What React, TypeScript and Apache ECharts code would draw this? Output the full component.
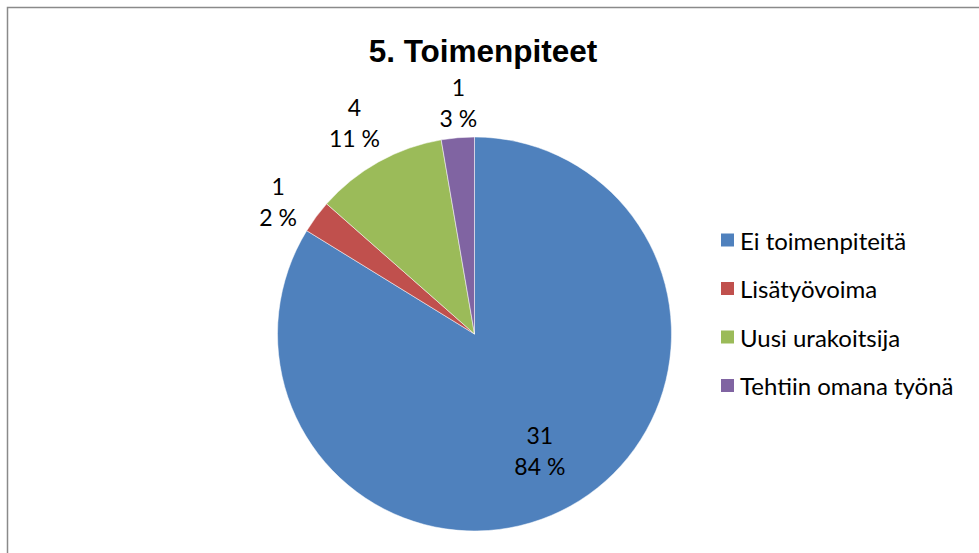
import React, { useEffect, useRef } from "react";
import * as echarts from "echarts";

const titleText = "5. Toimenpiteet";
const categories = ["Ei toimenpiteitä", "Lisätyövoima", "Uusi urakoitsija", "Tehtiin omana työnä"];
const counts = [31, 1, 4, 1];
const percentLabels = [84, 2, 11, 3];
const colors = ["#4F81BD", "#C0504D", "#9BBB59", "#8064A2"];
// small per-label nudges to mimic Excel's best-fit label placement
const labelOffsets = [
  [0, 0],
  [-5, 9],
  [-4, -4],
  [4, 6],
];

const FONT = "Lato, 'Noto Sans', sans-serif";

export default function App() {
  const ref = useRef<HTMLDivElement>(null);
  useEffect(() => {
    if (!ref.current) return;
    const chart = echarts.init(ref.current, undefined, { renderer: "svg" });
    const center = [474.5, 334];
    const R = 197;
    const pieData = categories.map((name, i) => ({ name, value: counts[i] }));
    const labelFmt = (p: any) => `${counts[p.dataIndex]}\n${percentLabels[p.dataIndex]} %`;
    const labelStyle = {
      position: "inside",
      formatter: labelFmt,
      color: "#000",
      fontFamily: FONT,
      fontSize: 23,
      lineHeight: 31,
      textBorderWidth: 0,
      rotate: 0,
    };
    chart.setOption({
      animation: false,
      color: colors,
      backgroundColor: "#fff",
      title: {
        text: titleText,
        left: 478,
        top: 30,
        textAlign: "center",
        textStyle: {
          fontFamily: "'Liberation Sans', Arial, sans-serif",
          fontWeight: "bold",
          fontSize: 31.5,
          lineHeight: 31.5,
          color: "#000",
        },
      },
      legend: {
        orient: "vertical",
        left: 714,
        top: 223,
        padding: 5,
        itemWidth: 15,
        itemHeight: 15,
        itemGap: 24.5,
        icon: "rect",
        selectedMode: false,
        data: categories,
        textStyle: { fontFamily: FONT, fontSize: 24, lineHeight: 24, color: "#000", padding: [0, 0, 0, 0] },
      },
      graphic: [
        {
          type: "rect",
          shape: { x: 7.5, y: 7.5, width: 1000, height: 600 },
          style: { fill: "none", stroke: "#8a8a8a", lineWidth: 1.5 },
          silent: true,
          z: -1,
        },
      ],
      series: [
        {
          type: "pie",
          center,
          radius: [0, R],
          startAngle: 90,
          clockwise: true,
          avoidLabelOverlap: false,
          label: { show: false },
          labelLine: { show: false },
          itemStyle: { borderColor: "#fff", borderWidth: 0.5 },
          data: pieData,
        },
        {
          type: "pie",
          center,
          radius: [65, R],
          startAngle: 90,
          clockwise: true,
          silent: true,
          legendHoverLink: false,
          avoidLabelOverlap: false,
          itemStyle: { color: "rgba(0,0,0,0)", borderWidth: 0 },
          labelLine: { show: false },
          label: { ...labelStyle, show: false },
          data: pieData.map((d, i) => ({ ...d, label: { show: i === 0 } })),
        },
        {
          type: "pie",
          center,
          radius: [R, 273],
          startAngle: 90,
          clockwise: true,
          silent: true,
          legendHoverLink: false,
          avoidLabelOverlap: false,
          itemStyle: { color: "rgba(0,0,0,0)", borderWidth: 0 },
          labelLine: { show: false },
          label: { ...labelStyle, show: false },
          data: pieData.map((d, i) => ({ ...d, label: { show: i !== 0, offset: labelOffsets[i] } })),
        },
      ],
    });
    return () => chart.dispose();
  }, []);
  return (
    <div
      ref={ref}
      style={{ position: "fixed", left: 0, top: 0, width: 979, height: 553, background: "#fff" }}
    />
  );
}
